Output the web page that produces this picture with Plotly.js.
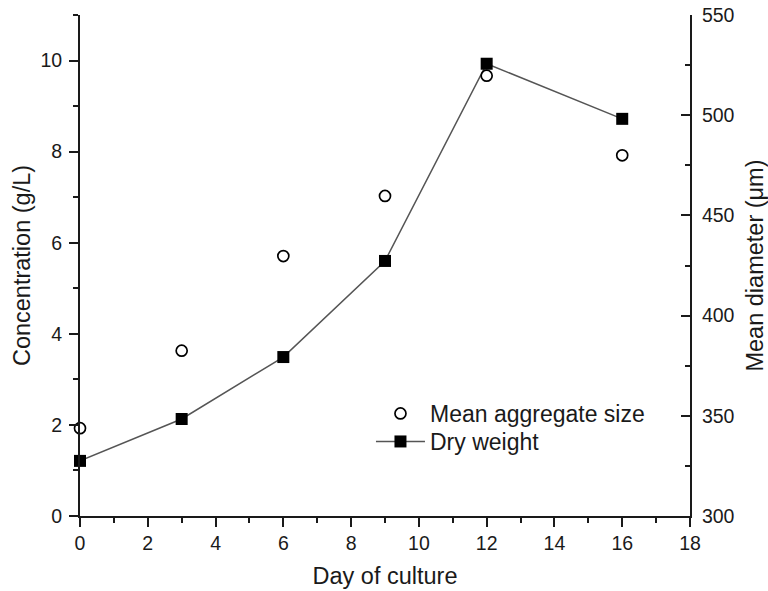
<!DOCTYPE html>
<html>
<head>
<meta charset="utf-8">
<script src="https://cdn.plot.ly/plotly-3.0.1.min.js"></script>
<style>html,body{margin:0;padding:0;background:#fff;}#chart{width:768px;height:591px;}</style>
</head>
<body>
<div id="chart"></div>
<script>
const days = [0, 3, 6, 9, 12, 16];
const meanAggregateSize = [343.8, 382.5, 429.7, 459.7, 519.7, 480];
const dryWeight = [1.21, 2.13, 3.49, 5.6, 9.93, 8.72];
const xTicks = [0, 2, 4, 6, 8, 10, 12, 14, 16, 18];
const yTicks = [0, 2, 4, 6, 8, 10];
const y2Ticks = [300, 350, 400, 450, 500, 550];

const fontFam = '"Liberation Sans", Arial, Helvetica, sans-serif';

const traces = [
  {
    x: days, y: meanAggregateSize, yaxis: 'y2', name: 'Mean aggregate size', legend: 'legend',
    mode: 'markers', type: 'scatter', cliponaxis: false,
    marker: {symbol: 'circle', size: 11, color: '#ffffff', line: {color: '#000', width: 1.7}}
  },
  {
    x: days, y: dryWeight, name: 'Dry weight', legend: 'legend2',
    mode: 'lines+markers', type: 'scatter', cliponaxis: false,
    line: {color: '#555', width: 1.5},
    marker: {symbol: 'square', size: 12, color: '#000'}
  }
];

const legendBase = {
  xanchor: 'left', yanchor: 'top',
  bgcolor: 'rgba(0,0,0,0)', font: {size: 23, family: fontFam, color: '#1a1a1a'},
  itemwidth: 49
};

const layout = {
  width: 768, height: 591,
  margin: {l: 80, r: 78, t: 15, b: 75},
  paper_bgcolor: '#fff', plot_bgcolor: '#fff',
  font: {family: fontFam, color: '#1a1a1a', size: 19.5},
  showlegend: true,
  legend: Object.assign({x: 0.477, y: 0.2475}, legendBase),
  legend2: Object.assign({x: 0.477, y: 0.1916}, legendBase),
  xaxis: {
    range: [0, 18], tickvals: xTicks, ticks: 'outside', ticklen: 9, tickwidth: 2, tickcolor: '#1a1a1a',
    showline: true, linecolor: '#1a1a1a', linewidth: 2, showgrid: false, zeroline: false,
    minor: {dtick: 1, ticks: 'outside', ticklen: 5, tickwidth: 2, tickcolor: '#1a1a1a', showgrid: false},
    tickfont: {size: 19.5},
    title: {text: 'Day of culture', font: {size: 23.5}, standoff: 14}
  },
  yaxis: {
    range: [0, 11], tickvals: yTicks, ticks: 'outside', ticklen: 9, tickwidth: 2, tickcolor: '#1a1a1a',
    showline: true, linecolor: '#1a1a1a', linewidth: 2, showgrid: false, zeroline: false,
    minor: {dtick: 1, ticks: 'outside', ticklen: 5, tickwidth: 2, tickcolor: '#1a1a1a', showgrid: false},
    tickfont: {size: 19.5}, ticklabelstandoff: 3,
    title: {text: 'Concentration (g/L)', font: {size: 23.5}, standoff: 3}
  },
  yaxis2: {
    range: [300, 550], tickvals: y2Ticks, overlaying: 'y', side: 'right',
    ticks: 'inside', ticklen: 9, tickwidth: 2, tickcolor: '#1a1a1a',
    showline: true, linecolor: '#1a1a1a', linewidth: 2, showgrid: false, zeroline: false,
    minor: {dtick: 25, ticks: 'inside', ticklen: 5, tickwidth: 2, tickcolor: '#1a1a1a', showgrid: false},
    tickfont: {size: 19.5}, ticklabelstandoff: 6,
    title: {text: 'Mean diameter (μm)', font: {size: 23.5}, standoff: 14}
  }
};

Plotly.newPlot('chart', traces, layout, {displayModeBar: false, staticPlot: true});
</script>
</body>
</html>
